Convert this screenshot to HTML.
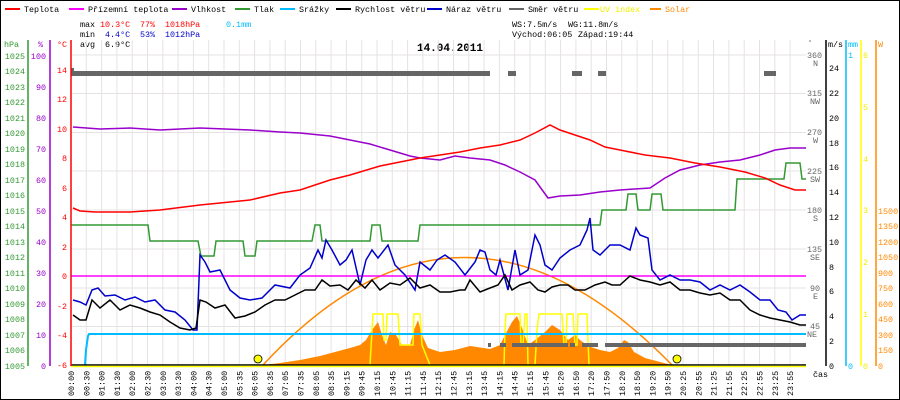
<!DOCTYPE html>
<html><head><meta charset="utf-8"><style>
html,body{margin:0;padding:0;background:#fff}
svg{display:block;font-family:"Liberation Mono",monospace;font-size:8.4px}
</style></head><body>
<svg width="900" height="400" viewBox="0 0 900 400" xmlns="http://www.w3.org/2000/svg">
<rect x="0.5" y="0.5" width="899" height="399" fill="#fff" stroke="#000"/>
<!-- legend -->
<g>
<line x1="5" y1="9" x2="20" y2="9" stroke="#f00" stroke-width="2"/><text x="24" y="12">Teplota</text>
<line x1="69" y1="9" x2="84" y2="9" stroke="#f0f" stroke-width="2"/><text x="88" y="12">Přízemní teplota</text>
<line x1="172" y1="9" x2="187" y2="9" stroke="#90c" stroke-width="2"/><text x="191" y="12">Vlhkost</text>
<line x1="235" y1="9" x2="250" y2="9" stroke="#393" stroke-width="2"/><text x="254" y="12">Tlak</text>
<line x1="280" y1="9" x2="295" y2="9" stroke="#0bf" stroke-width="2"/><text x="299" y="12">Srážky</text>
<line x1="336" y1="9" x2="351" y2="9" stroke="#000" stroke-width="2"/><text x="355" y="12">Rychlost větru</text>
<line x1="427" y1="9" x2="442" y2="9" stroke="#00c" stroke-width="2"/><text x="446" y="12">Náraz větru</text>
<line x1="509" y1="9" x2="524" y2="9" stroke="#666" stroke-width="2"/><text x="528" y="12">Směr větru</text>
<line x1="584" y1="9" x2="599" y2="9" stroke="#ff0" stroke-width="2"/><text x="600" y="12" fill="#ee0">UV index</text>
<line x1="650" y1="9" x2="661" y2="9" stroke="#f80" stroke-width="2"/><text x="665" y="12" fill="#f80">Solar</text>
</g>
<g>
<text x="80" y="27">max</text><text x="100" y="27" fill="#f00">10.3°C</text><text x="140" y="27" fill="#f00">77%</text><text x="165" y="27" fill="#f00">1018hPa</text><text x="226" y="27" fill="#0bf">0.1mm</text>
<text x="80" y="37">min</text><text x="105" y="37" fill="#00c">4.4°C</text><text x="140" y="37" fill="#00c">53%</text><text x="165" y="37" fill="#00c">1012hPa</text>
<text x="80" y="47">avg</text><text x="105" y="47">6.9°C</text>
<text x="512" y="27">WS:7.5m/s</text><text x="568" y="27">WG:11.8m/s</text>
<text x="512" y="37">Východ:06:05</text><text x="578" y="37">Západ:19:44</text>
<text x="450" y="51" text-anchor="middle" font-weight="bold" font-size="11">14.04.2011</text>
</g>
<!-- grid -->
<g stroke="#e6e2e2">
<line x1="71" y1="55" x2="806" y2="55"/><line x1="71" y1="93.5" x2="806" y2="93.5"/><line x1="71" y1="132.5" x2="806" y2="132.5"/><line x1="71" y1="171" x2="806" y2="171"/><line x1="71" y1="210" x2="806" y2="210"/><line x1="71" y1="249" x2="806" y2="249"/><line x1="71" y1="288" x2="806" y2="288"/><line x1="71" y1="326.5" x2="806" y2="326.5"/>
</g>
<g stroke="#e6e2e2">
<line x1="86.3" y1="40" x2="86.3" y2="365"/><line x1="101.6" y1="40" x2="101.6" y2="365"/><line x1="116.9" y1="40" x2="116.9" y2="365"/><line x1="132.2" y1="40" x2="132.2" y2="365"/><line x1="147.5" y1="40" x2="147.5" y2="365"/><line x1="162.8" y1="40" x2="162.8" y2="365"/><line x1="178.1" y1="40" x2="178.1" y2="365"/><line x1="193.4" y1="40" x2="193.4" y2="365"/><line x1="208.7" y1="40" x2="208.7" y2="365"/><line x1="224" y1="40" x2="224" y2="365"/><line x1="239.3" y1="40" x2="239.3" y2="365"/><line x1="254.6" y1="40" x2="254.6" y2="365"/><line x1="269.9" y1="40" x2="269.9" y2="365"/><line x1="285.2" y1="40" x2="285.2" y2="365"/><line x1="300.5" y1="40" x2="300.5" y2="365"/><line x1="315.8" y1="40" x2="315.8" y2="365"/><line x1="331.1" y1="40" x2="331.1" y2="365"/><line x1="346.4" y1="40" x2="346.4" y2="365"/><line x1="361.7" y1="40" x2="361.7" y2="365"/><line x1="377" y1="40" x2="377" y2="365"/><line x1="392.3" y1="40" x2="392.3" y2="365"/><line x1="407.6" y1="40" x2="407.6" y2="365"/><line x1="422.9" y1="40" x2="422.9" y2="365"/><line x1="438.2" y1="40" x2="438.2" y2="365"/><line x1="453.5" y1="40" x2="453.5" y2="365"/><line x1="468.8" y1="40" x2="468.8" y2="365"/><line x1="484.1" y1="40" x2="484.1" y2="365"/><line x1="499.4" y1="40" x2="499.4" y2="365"/><line x1="514.7" y1="40" x2="514.7" y2="365"/><line x1="530" y1="40" x2="530" y2="365"/><line x1="545.3" y1="40" x2="545.3" y2="365"/><line x1="560.6" y1="40" x2="560.6" y2="365"/><line x1="575.9" y1="40" x2="575.9" y2="365"/><line x1="591.2" y1="40" x2="591.2" y2="365"/><line x1="606.5" y1="40" x2="606.5" y2="365"/><line x1="621.8" y1="40" x2="621.8" y2="365"/><line x1="637.1" y1="40" x2="637.1" y2="365"/><line x1="652.4" y1="40" x2="652.4" y2="365"/><line x1="667.7" y1="40" x2="667.7" y2="365"/><line x1="683" y1="40" x2="683" y2="365"/><line x1="698.3" y1="40" x2="698.3" y2="365"/><line x1="713.6" y1="40" x2="713.6" y2="365"/><line x1="728.9" y1="40" x2="728.9" y2="365"/><line x1="744.2" y1="40" x2="744.2" y2="365"/><line x1="759.5" y1="40" x2="759.5" y2="365"/><line x1="774.8" y1="40" x2="774.8" y2="365"/><line x1="790.1" y1="40" x2="790.1" y2="365"/>
</g>
<!-- solar filled -->
<polygon fill="#f80" points="263,365 280,363 300,360 320,356 335,352 350,348 360,345 366,340 372,330 378,322 382,335 386,345 390,332 396,335 402,345 410,345 414,330 418,320 422,335 428,348 440,352 455,350 470,346 490,349 500,345 505,335 512,322 517,316 522,328 528,345 535,340 545,332 552,325 560,330 568,340 575,335 580,340 588,346 600,350 610,352 618,348 624,340 628,342 634,352 645,358 660,362 672,365"/>
<!-- solar theoretical -->
<path d="M263,365 Q462,150 672,365" fill="none" stroke="#f80" stroke-width="1.5"/>
<!-- UV -->
<polyline fill="none" stroke="#ff0" stroke-width="1.5" points="370,365 372,330 373,314 383,314 384,340 386,340 387,314 398,314 400,345 413,345 414,314 420,314 422,345 430,365 504,365 505,330 506,314 520,314 521,345 523,345 525,314 527,314 528,365 535,365 537,330 539,314 562,314 564,345 566,345 567,314 573,314 575,345 577,345 578,314 587,314 589,365"/>
<!-- precip -->
<polyline fill="none" stroke="#0bf" stroke-width="2" points="85,365 86,350 88,336 89,334 806,334"/>
<!-- dew point -->
<line x1="71" y1="276" x2="806" y2="276" stroke="#f0f" stroke-width="1.5"/>
<!-- wind dir -->
<g fill="#666">
<rect x="71" y="71" width="419" height="5"/><rect x="71" y="68" width="3" height="5"/>
<rect x="508" y="71" width="8" height="5"/><rect x="572" y="71" width="10" height="5"/><rect x="598" y="71" width="8" height="5"/><rect x="764" y="71" width="12" height="5"/>
<rect x="488" y="343" width="3" height="4"/><rect x="500" y="343" width="6" height="4"/><rect x="512" y="343" width="56" height="4"/><rect x="570" y="343" width="5" height="4"/><rect x="582" y="343" width="16" height="4"/><rect x="605" y="343" width="201" height="4"/>
</g>
<!-- pressure -->
<polyline fill="none" stroke="#393" stroke-width="1.5" points="71,225 148,225 150,241 198,241 201,256 214,256 216,241 243,241 245,256 255,256 257,241 312,241 315,225 320,225 322,241 370,241 372,225 380,225 382,241 418,241 420,225 600,225 602,210 626,210 628,194 636,194 638,210 650,210 652,194 661,194 663,210 735,210 737,179 784,179 786,163 800,163 802,179 806,179"/>
<!-- humidity -->
<polyline fill="none" stroke="#90c" stroke-width="1.5" points="73,127 100,129 130,128 160,130 200,128 250,130 280,132 300,133 330,136 350,140 370,144 390,150 410,156 420,158 440,160 455,156 470,158 490,160 505,165 520,172 535,180 548,198 560,196 580,195 600,192 620,190 650,188 665,178 680,170 700,165 720,162 740,160 760,155 775,150 790,148 806,148"/>
<!-- temperature -->
<polyline fill="none" stroke="#f00" stroke-width="1.5" points="73,208 80,211 95,212 130,212 160,210 200,205 250,200 280,193 300,190 330,180 350,175 380,166 400,162 420,158 440,155 460,152 480,148 500,145 520,140 535,133 550,125 560,130 575,135 590,140 605,147 620,150 645,155 670,158 695,163 720,167 745,172 765,178 780,185 795,190 806,190"/>
<!-- wind gust -->
<polyline fill="none" stroke="#00c" stroke-width="1.5" points="73,300 80,302 86,305 92,290 98,288 105,296 115,295 125,300 135,297 145,302 155,300 165,310 175,312 185,320 193,330 197,330 200,255 205,262 210,272 220,270 230,290 240,298 250,300 262,298 275,285 290,288 300,275 310,268 318,250 322,258 326,240 332,250 340,265 346,260 352,250 360,285 366,260 372,250 378,258 388,245 395,265 405,275 415,290 420,262 430,270 437,260 445,255 455,262 465,275 475,262 480,250 485,252 490,270 496,275 500,260 508,290 515,250 520,275 528,270 535,235 540,245 545,265 552,270 560,258 570,250 580,245 587,230 590,218 593,250 600,255 610,245 620,245 630,250 636,228 640,235 648,238 652,270 660,280 670,275 680,280 690,280 700,282 710,290 720,285 730,290 740,285 750,292 760,300 770,300 778,310 786,312 792,320 800,315 806,315"/>
<!-- wind speed -->
<polyline fill="none" stroke="#000" stroke-width="1.5" points="73,315 80,320 86,320 92,300 100,308 110,300 120,310 130,305 140,308 150,312 160,315 170,322 180,328 190,330 196,328 200,300 206,302 215,308 225,305 235,318 245,316 255,312 265,305 275,300 285,300 295,295 305,290 315,290 322,280 330,286 340,285 348,290 356,280 365,288 372,280 380,290 390,283 400,285 410,278 420,288 430,285 440,292 450,292 460,290 465,290 470,280 480,292 490,288 498,285 505,275 512,290 520,285 530,282 538,290 545,292 552,287 560,285 568,285 575,290 585,290 595,285 605,282 612,285 620,285 630,276 640,280 650,282 660,285 670,282 680,290 690,290 700,293 710,295 720,293 730,300 740,300 750,310 760,315 770,318 780,320 790,322 800,325 806,325"/>
<!-- sun markers -->
<circle cx="258" cy="359" r="4" fill="#ff0" stroke="#000" stroke-width="0.8"/>
<circle cx="677" cy="359" r="4" fill="#ff0" stroke="#000" stroke-width="0.8"/>
<line x1="71" y1="365" x2="806" y2="365" stroke="#000" stroke-width="1.5"/>
<line x1="71" y1="366.5" x2="806" y2="366.5" stroke="#ff0" stroke-width="1.5"/>
<!-- left axes -->
<g>
<line x1="28" y1="40" x2="28" y2="366" stroke="#393" stroke-width="1.5"/>
<line x1="50" y1="40" x2="50" y2="366" stroke="#90c" stroke-width="1.5"/>
<line x1="71" y1="40" x2="71" y2="366" stroke="#f00" stroke-width="1.5"/>
<text x="4" y="47" fill="#393">hPa</text><text x="38" y="47" fill="#90c">%</text><text x="57" y="47" fill="#f00">°C</text>
<g fill="#393" text-anchor="end">
<text x="25" y="59">1025</text><text x="25" y="74">1024</text><text x="25" y="90">1023</text><text x="25" y="105">1022</text><text x="25" y="121">1021</text><text x="25" y="136">1020</text><text x="25" y="152">1019</text><text x="25" y="167">1018</text><text x="25" y="183">1017</text><text x="25" y="198">1016</text><text x="25" y="214">1015</text><text x="25" y="229">1014</text><text x="25" y="245">1013</text><text x="25" y="260">1012</text><text x="25" y="276">1011</text><text x="25" y="291">1010</text><text x="25" y="307">1009</text><text x="25" y="322">1008</text><text x="25" y="338">1007</text><text x="25" y="353">1006</text><text x="25" y="369">1005</text>
</g>
<g fill="#90c" text-anchor="end">
<text x="46" y="59">100</text><text x="46" y="90">90</text><text x="46" y="121">80</text><text x="46" y="152">70</text><text x="46" y="183">60</text><text x="46" y="214">50</text><text x="46" y="245">40</text><text x="46" y="276">30</text><text x="46" y="307">20</text><text x="46" y="338">10</text><text x="46" y="369">0</text>
</g>
<g fill="#f00" text-anchor="end">
<text x="67" y="73">14</text><text x="67" y="102">12</text><text x="67" y="132">10</text><text x="67" y="161">8</text><text x="67" y="191">6</text><text x="67" y="220">4</text><text x="67" y="250">2</text><text x="67" y="279">0</text><text x="67" y="309">-2</text><text x="67" y="338">-4</text><text x="67" y="368">-6</text>
</g>
</g>
<!-- right axes -->
<g>
<line x1="826" y1="40" x2="826" y2="366" stroke="#000" stroke-width="1.5"/>
<line x1="846" y1="40" x2="846" y2="366" stroke="#0bf" stroke-width="1.5"/>
<line x1="861" y1="40" x2="861" y2="366" stroke="#ff0" stroke-width="1.5"/>
<line x1="876" y1="40" x2="876" y2="366" stroke="#f80" stroke-width="1.5"/>
<text x="808" y="45" fill="#666" font-size="7">°</text><text x="828" y="47">m/s</text><text x="848" y="47" fill="#0bf">mm</text><text x="878" y="47" fill="#f80">W</text>
<g fill="#666">
<text x="807" y="58">360</text><text x="813" y="66">N</text>
<text x="807" y="96">315</text><text x="810" y="104">NW</text>
<text x="807" y="135">270</text><text x="813" y="143">W</text>
<text x="807" y="174">225</text><text x="810" y="182">SW</text>
<text x="807" y="213">180</text><text x="813" y="221">S</text>
<text x="807" y="252">135</text><text x="810" y="260">SE</text>
<text x="810" y="291">90</text><text x="813" y="299">E</text>
<text x="810" y="329">45</text><text x="807" y="337">NE</text>
</g>
<g fill="#000">
<text x="829" y="71">24</text><text x="829" y="96">22</text><text x="829" y="121">20</text><text x="829" y="146">18</text><text x="829" y="170">16</text><text x="829" y="195">14</text><text x="829" y="220">12</text><text x="829" y="245">10</text><text x="829" y="270">8</text><text x="829" y="294">6</text><text x="829" y="319">4</text><text x="829" y="344">2</text><text x="829" y="369">0</text>
</g>
<text x="848" y="58" fill="#0bf">1</text><text x="848" y="369" fill="#0bf">0</text>
<g fill="#ee0"><text x="863" y="58">6</text><text x="863" y="110">5</text><text x="863" y="162">4</text><text x="863" y="213">3</text><text x="863" y="265">2</text><text x="863" y="317">1</text><text x="863" y="369">0</text></g>
<g fill="#f80"><text x="878" y="214">1500</text><text x="878" y="229">1350</text><text x="878" y="245">1200</text><text x="878" y="260">1050</text><text x="878" y="276">900</text><text x="878" y="291">750</text><text x="878" y="307">600</text><text x="878" y="322">450</text><text x="878" y="338">300</text><text x="878" y="353">150</text><text x="878" y="369">0</text></g>
</g>
<!-- x labels -->
<g fill="#000">
<text transform="translate(74,396) rotate(-90)">00:00</text><text transform="translate(89.3,396) rotate(-90)">00:30</text><text transform="translate(104.6,396) rotate(-90)">01:00</text><text transform="translate(119.9,396) rotate(-90)">01:30</text><text transform="translate(135.2,396) rotate(-90)">02:00</text><text transform="translate(150.5,396) rotate(-90)">02:30</text><text transform="translate(165.8,396) rotate(-90)">03:00</text><text transform="translate(181.1,396) rotate(-90)">03:30</text><text transform="translate(196.4,396) rotate(-90)">04:00</text><text transform="translate(211.7,396) rotate(-90)">04:30</text><text transform="translate(227,396) rotate(-90)">05:00</text><text transform="translate(242.3,396) rotate(-90)">05:35</text><text transform="translate(257.6,396) rotate(-90)">06:05</text><text transform="translate(272.9,396) rotate(-90)">06:35</text><text transform="translate(288.2,396) rotate(-90)">07:05</text><text transform="translate(303.5,396) rotate(-90)">07:35</text><text transform="translate(318.8,396) rotate(-90)">08:05</text><text transform="translate(334.1,396) rotate(-90)">08:35</text><text transform="translate(349.4,396) rotate(-90)">09:15</text><text transform="translate(364.7,396) rotate(-90)">09:45</text><text transform="translate(380,396) rotate(-90)">10:15</text><text transform="translate(395.3,396) rotate(-90)">10:45</text><text transform="translate(410.6,396) rotate(-90)">11:15</text><text transform="translate(425.9,396) rotate(-90)">11:45</text><text transform="translate(441.2,396) rotate(-90)">12:15</text><text transform="translate(456.5,396) rotate(-90)">12:45</text><text transform="translate(471.8,396) rotate(-90)">13:15</text><text transform="translate(487.1,396) rotate(-90)">13:45</text><text transform="translate(502.4,396) rotate(-90)">14:15</text><text transform="translate(517.7,396) rotate(-90)">14:45</text><text transform="translate(533,396) rotate(-90)">15:15</text><text transform="translate(548.3,396) rotate(-90)">15:45</text><text transform="translate(563.6,396) rotate(-90)">16:20</text><text transform="translate(578.9,396) rotate(-90)">16:50</text><text transform="translate(594.2,396) rotate(-90)">17:20</text><text transform="translate(609.5,396) rotate(-90)">17:50</text><text transform="translate(624.8,396) rotate(-90)">18:20</text><text transform="translate(640.1,396) rotate(-90)">18:50</text><text transform="translate(655.4,396) rotate(-90)">19:20</text><text transform="translate(670.7,396) rotate(-90)">19:50</text><text transform="translate(686,396) rotate(-90)">20:25</text><text transform="translate(701.3,396) rotate(-90)">20:55</text><text transform="translate(716.6,396) rotate(-90)">21:25</text><text transform="translate(731.9,396) rotate(-90)">21:55</text><text transform="translate(747.2,396) rotate(-90)">22:25</text><text transform="translate(762.5,396) rotate(-90)">22:55</text><text transform="translate(777.8,396) rotate(-90)">23:25</text><text transform="translate(793.1,396) rotate(-90)">23:55</text>
<text x="813" y="377">čas</text>
</g>
</svg>
</body></html>
